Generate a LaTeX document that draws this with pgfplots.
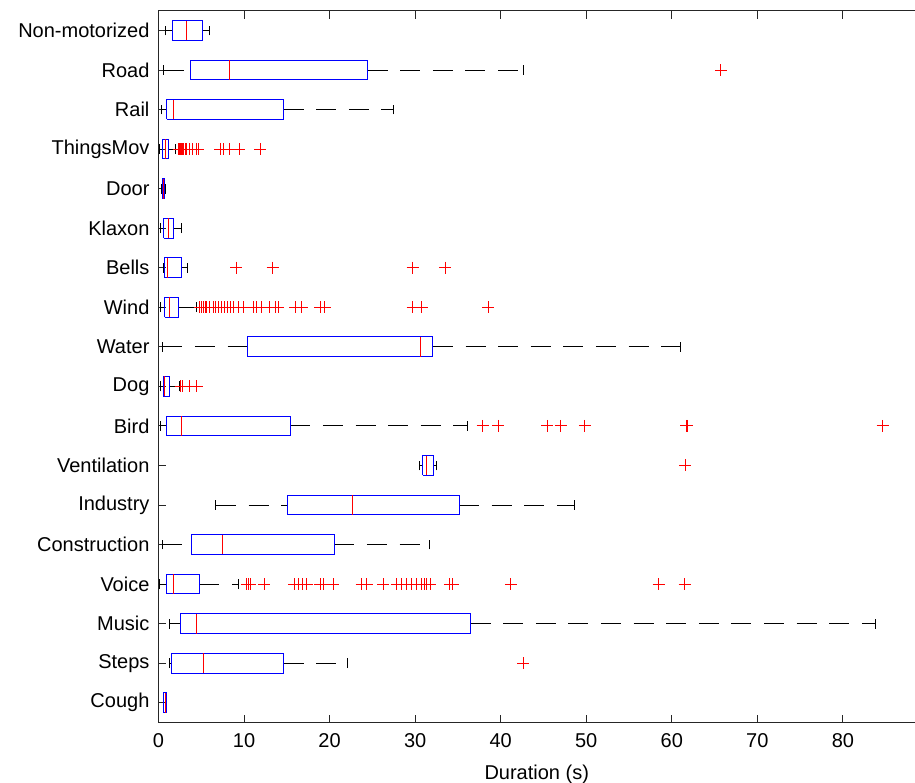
\documentclass[border=0pt]{standalone}
\usepackage{fontspec}
\setmainfont{Liberation Sans}
\usepackage{pgfplots}
\pgfplotsset{compat=1.18}

\definecolor{mblue}{RGB}{0,0,255}
\definecolor{mred}{RGB}{255,0,0}
\definecolor{axgray}{RGB}{38,38,38}

\begin{document}
\begin{tikzpicture}
\begin{axis}[
  name=ax,
  scale only axis,
  width=378.25pt, height=355.9pt,
  xmin=0, xmax=88.43, ymin=0.5, ymax=18.5,
  axis y line*=left,
  xtick={0,10,...,80},
  ytick={1,...,18},
  yticklabels={Cough,Steps,Music,Voice,Construction,Industry,Ventilation,Bird,Dog,Water,Wind,Bells,Klaxon,Door,ThingsMov,Rail,Road,Non-motorized},
  tick align=inside, xtick pos=both, ytick pos=left,
  major tick length=4pt,
  axis line style={draw=axgray, line width=0.5pt, -},
  every tick/.style={draw=axgray, line width=0.5pt},
  /pgf/number format/assume math mode=true,
  ticklabel style={font=\fontsize{10}{12}\selectfont},
  xticklabel style={yshift=-2pt},
  yticklabel style={xshift=-1pt},
  xlabel={Duration (s)},
  xlabel style={font=\fontsize{10}{12}\selectfont, yshift=-2pt},
  unbounded coords=jump,
]
% whiskers (lower: lw -> q1, upper: q3 -> uw), dashed black
\addplot[draw=black, line width=0.5pt, dash pattern=on 10pt off 6.3pt, mark=none] coordinates {
(0.84,18)(1.62,18) (nan,nan) (5.16,18)(6.02,18) (nan,nan)
(0.64,17)(3.72,17) (nan,nan) (24.45,17)(42.65,17) (nan,nan)
(0.37,16)(0.99,16) (nan,nan) (14.63,16)(27.45,16) (nan,nan)
(0.10,15)(0.45,15) (nan,nan) (1.19,15)(2.0,15) (nan,nan)
(0.37,14)(0.45,14) (nan,nan) (0.68,14)(0.76,14) (nan,nan)
(0.29,13)(0.64,13) (nan,nan) (1.73,13)(2.67,13) (nan,nan)
(0.56,12)(0.72,12) (nan,nan) (2.71,12)(3.37,12) (nan,nan)
(0.25,11)(0.72,11) (nan,nan) (2.32,11)(4.46,11) (nan,nan)
(0.45,10)(10.38,10) (nan,nan) (32.08,10)(61.04,10) (nan,nan)
(0.18,9)(0.53,9) (nan,nan) (1.31,9)(2.4,9) (nan,nan)
(0.25,8)(0.99,8) (nan,nan) (15.41,8)(36.1,8) (nan,nan)
(30.49,7)(30.88,7) (nan,nan) (32.2,7)(32.52,7) (nan,nan)
(6.72,6)(15.06,6) (nan,nan) (35.13,6)(48.61,6) (nan,nan)
(0.45,5)(3.84,5) (nan,nan) (20.55,5)(31.66,5) (nan,nan)
(0.10,4)(0.92,4) (nan,nan) (4.77,4)(9.41,4) (nan,nan)
(1.27,3)(2.55,3) (nan,nan) (36.49,3)(83.79,3) (nan,nan)
(1.27,2)(1.5,2) (nan,nan) (14.63,2)(22.07,2) (nan,nan)
(0.56,1)(0.64,1) (nan,nan) (0.92,1)(0.95,1)
};
% whisker caps, solid black
\addplot[draw=black, line width=0.5pt, solid, mark=none] coordinates {
(0.84,17.875)(0.84,18.125) (nan,nan) (6.02,17.875)(6.02,18.125) (nan,nan)
(0.64,16.875)(0.64,17.125) (nan,nan) (42.65,16.875)(42.65,17.125) (nan,nan)
(0.37,15.875)(0.37,16.125) (nan,nan) (27.45,15.875)(27.45,16.125) (nan,nan)
(0.10,14.875)(0.10,15.125) (nan,nan) (2.0,14.875)(2.0,15.125) (nan,nan)
(0.37,13.875)(0.37,14.125) (nan,nan) (0.76,13.875)(0.76,14.125) (nan,nan)
(0.29,12.875)(0.29,13.125) (nan,nan) (2.67,12.875)(2.67,13.125) (nan,nan)
(0.56,11.875)(0.56,12.125) (nan,nan) (3.37,11.875)(3.37,12.125) (nan,nan)
(0.25,10.875)(0.25,11.125) (nan,nan) (4.46,10.875)(4.46,11.125) (nan,nan)
(0.45,9.875)(0.45,10.125) (nan,nan) (61.04,9.875)(61.04,10.125) (nan,nan)
(0.18,8.875)(0.18,9.125) (nan,nan) (2.4,8.875)(2.4,9.125) (nan,nan)
(0.25,7.875)(0.25,8.125) (nan,nan) (36.1,7.875)(36.1,8.125) (nan,nan)
(30.49,6.875)(30.49,7.125) (nan,nan) (32.52,6.875)(32.52,7.125) (nan,nan)
(6.72,5.875)(6.72,6.125) (nan,nan) (48.61,5.875)(48.61,6.125) (nan,nan)
(0.45,4.875)(0.45,5.125) (nan,nan) (31.66,4.875)(31.66,5.125) (nan,nan)
(0.10,3.875)(0.10,4.125) (nan,nan) (9.41,3.875)(9.41,4.125) (nan,nan)
(1.27,2.875)(1.27,3.125) (nan,nan) (83.79,2.875)(83.79,3.125) (nan,nan)
(1.27,1.875)(1.27,2.125) (nan,nan) (22.07,1.875)(22.07,2.125) (nan,nan)
(0.56,0.875)(0.56,1.125) (nan,nan) (0.95,0.875)(0.95,1.125)
};
% boxes (q1 to q3), blue
\addplot[draw=mblue, line width=0.5pt, solid, mark=none, line join=miter] coordinates {
(1.62,17.75)(5.16,17.75)(5.16,18.25)(1.62,18.25)(1.62,17.75) (nan,nan)
(3.72,16.75)(24.45,16.75)(24.45,17.25)(3.72,17.25)(3.72,16.75) (nan,nan)
(0.99,15.75)(14.63,15.75)(14.63,16.25)(0.99,16.25)(0.99,15.75) (nan,nan)
(0.45,14.75)(1.19,14.75)(1.19,15.25)(0.45,15.25)(0.45,14.75) (nan,nan)
(0.45,13.75)(0.68,13.75)(0.68,14.25)(0.45,14.25)(0.45,13.75) (nan,nan)
(0.64,12.75)(1.73,12.75)(1.73,13.25)(0.64,13.25)(0.64,12.75) (nan,nan)
(0.72,11.75)(2.71,11.75)(2.71,12.25)(0.72,12.25)(0.72,11.75) (nan,nan)
(0.72,10.75)(2.32,10.75)(2.32,11.25)(0.72,11.25)(0.72,10.75) (nan,nan)
(10.38,9.75)(32.08,9.75)(32.08,10.25)(10.38,10.25)(10.38,9.75) (nan,nan)
(0.53,8.75)(1.31,8.75)(1.31,9.25)(0.53,9.25)(0.53,8.75) (nan,nan)
(0.99,7.75)(15.41,7.75)(15.41,8.25)(0.99,8.25)(0.99,7.75) (nan,nan)
(30.88,6.75)(32.2,6.75)(32.2,7.25)(30.88,7.25)(30.88,6.75) (nan,nan)
(15.06,5.75)(35.13,5.75)(35.13,6.25)(15.06,6.25)(15.06,5.75) (nan,nan)
(3.84,4.75)(20.55,4.75)(20.55,5.25)(3.84,5.25)(3.84,4.75) (nan,nan)
(0.92,3.75)(4.77,3.75)(4.77,4.25)(0.92,4.25)(0.92,3.75) (nan,nan)
(2.55,2.75)(36.49,2.75)(36.49,3.25)(2.55,3.25)(2.55,2.75) (nan,nan)
(1.5,1.75)(14.63,1.75)(14.63,2.25)(1.5,2.25)(1.5,1.75) (nan,nan)
(0.64,0.75)(0.92,0.75)(0.92,1.25)(0.64,1.25)(0.64,0.75)
};
% medians, red
\addplot[draw=mred, line width=0.5pt, solid, mark=none] coordinates {
(3.33,17.75)(3.33,18.25) (nan,nan)
(8.28,16.75)(8.28,17.25) (nan,nan)
(1.73,15.75)(1.73,16.25) (nan,nan)
(0.76,14.75)(0.76,15.25) (nan,nan)
(0.56,13.75)(0.56,14.25) (nan,nan)
(1.15,12.75)(1.15,13.25) (nan,nan)
(1.03,11.75)(1.03,12.25) (nan,nan)
(1.27,10.75)(1.27,11.25) (nan,nan)
(30.68,9.75)(30.68,10.25) (nan,nan)
(0.72,8.75)(0.72,9.25) (nan,nan)
(2.67,7.75)(2.67,8.25) (nan,nan)
(31.35,6.75)(31.35,7.25) (nan,nan)
(22.66,5.75)(22.66,6.25) (nan,nan)
(7.46,4.75)(7.46,5.25) (nan,nan)
(1.73,3.75)(1.73,4.25) (nan,nan)
(4.42,2.75)(4.42,3.25) (nan,nan)
(5.24,1.75)(5.24,2.25) (nan,nan)
(0.76,0.75)(0.76,1.25)
};
% outliers, red +
\addplot[only marks, mark=+, mark size=3pt, mark options={draw=mred, solid, line width=0.5pt}] table[row sep=\\] {
x y\\
65.75 17\\
2.35 15\\ 2.45 15\\ 2.55 15\\ 2.65 15\\ 2.75 15\\ 2.85 15\\ 2.95 15\\ 3.1 15\\ 3.3 15\\ 3.6 15\\ 4.0 15\\ 4.45 15\\ 4.65 15\\ 7.2 15\\ 7.6 15\\ 8.3 15\\ 9.45 15\\ 11.9 15\\
9.1 12\\ 13.35 12\\ 29.7 12\\ 33.5 12\\
4.85 11\\ 5.05 11\\ 5.24 11\\ 5.45 11\\ 5.63 11\\ 6.0 11\\ 6.41 11\\ 6.7 11\\ 6.99 11\\ 7.38 11\\ 7.77 11\\ 8.1 11\\ 8.36 11\\ 8.75 11\\ 9.33 11\\ 9.91 11\\ 11.08 11\\ 11.48 11\\ 12.06 11\\ 13.03 11\\ 13.62 11\\ 14.0 11\\ 15.96 11\\ 16.74 11\\ 18.88 11\\ 19.46 11\\ 29.71 11\\ 30.76 11\\ 38.55 11\\
2.6 9\\ 2.79 9\\ 3.6 9\\ 4.46 9\\
37.9 8\\ 39.72 8\\ 45.45 8\\ 47.0 8\\ 49.85 8\\ 61.7 8\\ 61.8 8\\ 84.65 8\\
61.6 7\\
10.3 4\\ 10.5 4\\ 10.7 4\\ 12.37 4\\ 15.88 4\\ 16.34 4\\ 16.85 4\\ 17.32 4\\ 18.88 4\\ 19.27 4\\ 20.44 4\\ 23.75 4\\ 24.33 4\\ 26.28 4\\ 27.84 4\\ 28.43 4\\ 29.01 4\\ 29.6 4\\ 30.18 4\\ 30.77 4\\ 31.15 4\\ 31.35 4\\ 31.74 4\\ 34.07 4\\ 34.39 4\\ 41.2 4\\ 58.47 4\\ 61.5 4\\
42.65 2\\
};
\end{axis}
\pgfresetboundingbox
\path[use as bounding box] ([shift={(-79.25pt,-29.75pt)}]ax.south west) rectangle ([shift={(0pt,5.35pt)}]ax.north east);
\end{tikzpicture}
\end{document}
